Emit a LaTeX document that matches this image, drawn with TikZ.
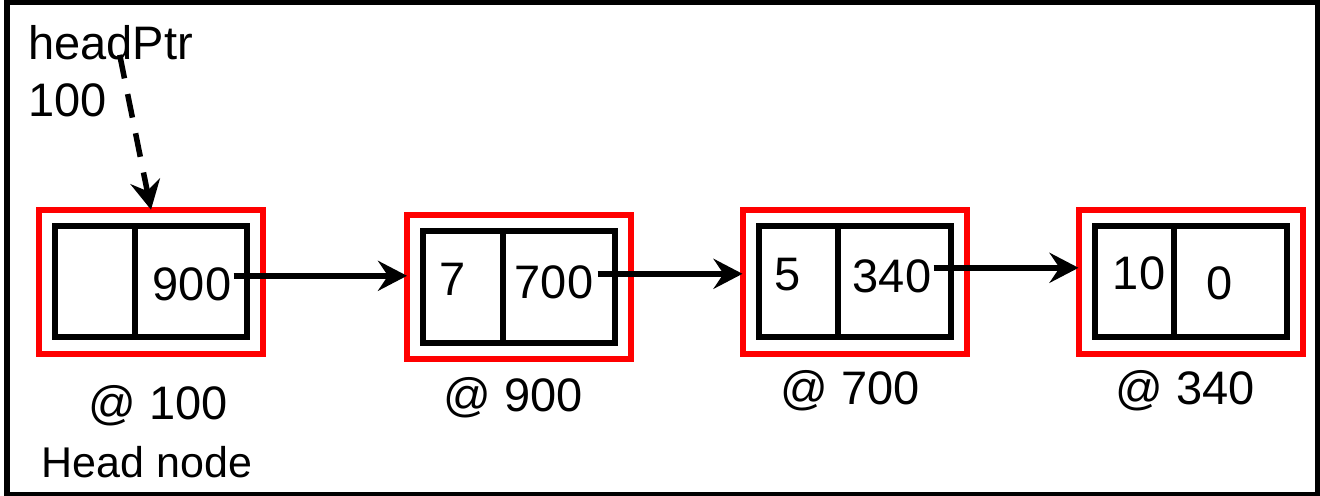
\documentclass[tikz,border=0pt]{standalone}
\usepackage{fontspec}
\setmainfont{Liberation Sans}
\usetikzlibrary{arrows.meta}
\usetikzlibrary{positioning}

\tikzset{
	redbox/.style={draw=red, line width=3pt, outer sep=0pt, minimum width=112pt, minimum height=72pt},
	datacell/.style={draw=black, line width=3pt, outer sep=0pt, minimum width=39.85pt, minimum height=55.8pt},
	ptrcell/.style={datacell, minimum width=56.15pt},
	val/.style={inner sep=0pt, anchor=base, font=\fontsize{23.5}{28}\selectfont},
	link/.style={line width=3pt, -{Stealth[length=14.5pt, width=15pt, inset=5pt]}},
}

\begin{document}
\begin{tikzpicture}[x=0.5pt, y=0.5pt]

	\useasboundingbox (0,0) rectangle (1320,496);
	\draw[line width=3pt] (7,1) rectangle (1318,494);

	% list nodes: red box, data cell, next cell
	\foreach \nm/\cx/\cy in {n1/151/214.3, n2/519/208.7, n3/854.5/214.3, n4/1190.5/214.3}{
		\node[redbox] (\nm) at (\cx,\cy) {};
		\node[datacell, anchor=east] (\nm-data) at ([xshift=-8.15pt]\nm.center) {};
		\node[ptrcell, right=0pt of \nm-data] (\nm-next) {};
	}

	\node[val] (v1) at (192,195) {900};
	\node[val] (k2) at (452.5,200) {7};
	\node[val] (v2) at (554,197) {700};
	\node[val] (k3) at (788,205) {5};
	\node[val] (v3) at (892,203) {340};
	\node[val] (k4) at (1139,206) {10};
	\node[val] (v4) at (1220,196) {0};

	\node[val, anchor=base west] (hp) at (28,436) {headPtr};
	\node[val, anchor=base west] (hpval) at (28,379) {100};

	\node[val] (a1) at (158,76) {@ 100};
	\node[val, font=\fontsize{21.5}{26}\selectfont] (head) at (147,18) {Head node};
	\node[val] (a2) at (513,84) {@ 900};
	\node[val] (a3) at (850,91) {@ 700};
	\node[val] (a4) at (1185,91) {@ 340};

	\draw[link] ([shift={(1pt,4.5pt)}]v1.east) -- ([yshift=4.5pt]v1.east -| n2.west);
	\draw[link] ([shift={(2pt,4.5pt)}]v2.east) -- ([yshift=4.5pt]v2.east -| n3.west);
	\draw[link] ([shift={(1pt,4.5pt)}]v3.east) -- ([yshift=4.5pt]v3.east -| n4.west);
	\draw[link, line width=2.75pt, dash pattern=on 12pt off 8pt] ([xshift=4.5pt,yshift=3pt]hp.south) -- (n1.north);

\end{tikzpicture}
\end{document}
